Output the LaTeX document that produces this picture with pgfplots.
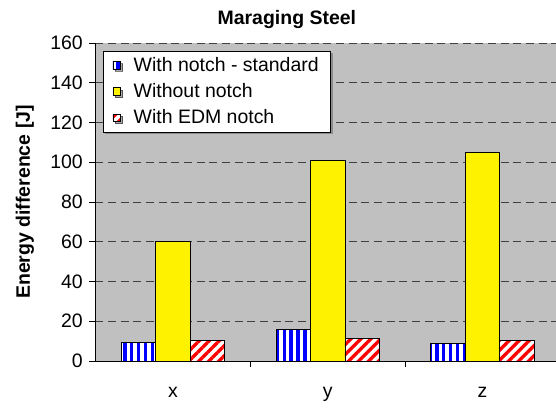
\documentclass[border=0pt]{standalone}
\usepackage{fontspec}
\setmainfont{Liberation Sans}
\usepackage{pgfplots}
\pgfplotsset{compat=1.18}
\usetikzlibrary{patterns.meta,calc,shadows}

\definecolor{plotbg}{RGB}{192,192,192}
\newcommand{\chartfont}{\fontsize{14.6}{17}\selectfont}

% small square legend swatch
\pgfplotsset{
  sqlegend/.style={legend image code/.code={%
    \draw[##1,line width=0.5pt] (0pt,-2.9pt) rectangle (5.8pt,2.9pt);}},
}

\begin{document}
\begin{tikzpicture}
\begin{axis}[
  name=ax,
  scale only axis,
  width=348.4pt, height=238.5pt,
  xmin=-0.5, xmax=2.5,
  ymin=0, ymax=160,
  ytick={0,20,...,160},
  xtick={0.5,1.5}, xticklabels={},
  extra x ticks={0,1,2},
  extra x tick labels={x,y,z},
  extra x tick style={major tick length=0pt,
    tick label style={anchor=base, yshift=-27.75pt}},
  axis lines=left,
  axis line style={-, black, line width=0.6pt},
  tick align=outside,
  major tick length=4.5pt,
  tick style={black, line width=0.6pt},
  ymajorgrids,
  grid style={black!75, line width=0.6pt, dash pattern=on 6pt off 3.5pt},
  axis background/.style={fill=plotbg},
  font=\chartfont,
  tick label style={font=\chartfont},
  /pgf/number format/assume math mode=true,
  yticklabel style={xshift=-1.5pt},
  title={Maraging Steel},
  title style={font=\bfseries\chartfont, at={(axis description cs:0.412,1)},
    anchor=base, yshift=7.5pt},
  ylabel={Energy difference [J]},
  ylabel style={font=\bfseries\chartfont, at={(axis description cs:-0.152,0.5)},
    anchor=center},
  legend style={at={(axis description cs:0.016,0.975)}, anchor=north west,
    font=\chartfont, draw=black, line width=0.6pt, fill=white,
    drop shadow={shadow xshift=1.6pt, shadow yshift=-1.6pt, fill=black!65},
    inner xsep=7pt, inner ysep=2.5pt, row sep=3.6pt,
    /tikz/every odd column/.append style={column sep=7.5pt}},
  legend cell align=left,
]
\addplot[sqlegend, ybar, bar width=0.2229, bar shift=-0.2229,
  draw=black, line width=0.6pt, fill=white,
  postaction={pattern={Lines[angle=90,distance=5.2pt,line width=2.6pt]}, pattern color=blue}]
  coordinates {(0,9.5) (1,16) (2,9)};
\addlegendentry{With notch - standard}
\addplot[sqlegend, ybar, bar width=0.2229, bar shift=0,
  draw=black, line width=0.6pt, fill=yellow]
  coordinates {(0,60) (1,101) (2,105)};
\addlegendentry{Without notch}
\addplot[sqlegend, ybar, bar width=0.2229, bar shift=0.2229,
  draw=black, line width=0.6pt, fill=white,
  postaction={pattern={Lines[angle=45,distance=5.3pt,line width=2.5pt]}, pattern color=red}]
  coordinates {(0,10.5) (1,11.5) (2,10.5)};
\addlegendentry{With EDM notch}
\end{axis}
\pgfresetboundingbox
\path[use as bounding box] ($(ax.south west)+(-71.6pt,-44.25pt)$)
  rectangle ($(ax.south west)+(345.4pt,270.75pt)$);
\end{tikzpicture}
\end{document}
